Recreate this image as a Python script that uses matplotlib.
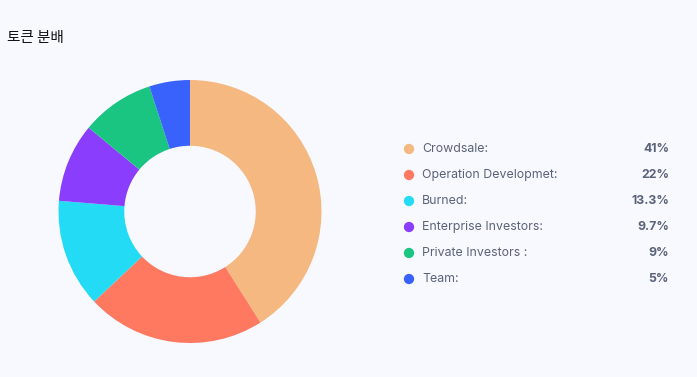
import matplotlib
matplotlib.use("Agg")
import matplotlib.pyplot as plt

title = "토큰 분배"
labels = ["Crowdsale:", "Operation Developmet:", "Burned:", "Enterprise Investors:", "Private Investors :", "Team:"]
values = [41, 22, 13.3, 9.7, 9, 5]
value_labels = ["41%", "22%", "13.3%", "9.7%", "9%", "5%"]
colors = ["#f5b880", "#ff7860", "#23dbf5", "#8b3dfd", "#19c580", "#3862fb"]

W, H = 697, 377
bg = "#f8f9fe"
fig = plt.figure(figsize=(W / 100, H / 100), dpi=100, facecolor=bg)

# donut
cx, cy, r = 190, 211.5, 131.5
ax = fig.add_axes([(cx - r) / W, (H - cy - r) / H, 2 * r / W, 2 * r / H])
ax.set_facecolor(bg)
ax.pie(values, colors=colors, startangle=90, counterclock=False, radius=1,
       wedgeprops=dict(width=0.5, edgecolor="none"))
ax.set_xlim(-1, 1)
ax.set_ylim(-1, 1)
ax.set_aspect("equal")
ax.axis("off")

# overlay for legend & title
ov = fig.add_axes([0, 0, 1, 1])
ov.set_xlim(0, W)
ov.set_ylim(H, 0)
ov.axis("off")
ov.patch.set_alpha(0)

ov.text(7, 38, title, fontsize=10.5, color="#111111", va="center", ha="left",
        family=["Noto Sans CJK KR", "DejaVu Sans"])

y0, dy = 149, 26
for i, (lab, vl, c) in enumerate(zip(labels, value_labels, colors)):
    y = y0 + i * dy
    ov.scatter([409], [y], s=55, color=c, edgecolors="none")
    ov.text(422, y, lab, fontsize=8.9, color="#5b6378", va="center", ha="left", family="Inter")
    ov.text(669, y, vl, fontsize=8.9, color="#5b6378", va="center", ha="right",
            family="Inter", fontweight="bold")

fig.savefig("out.png", dpi=100, facecolor=bg)
